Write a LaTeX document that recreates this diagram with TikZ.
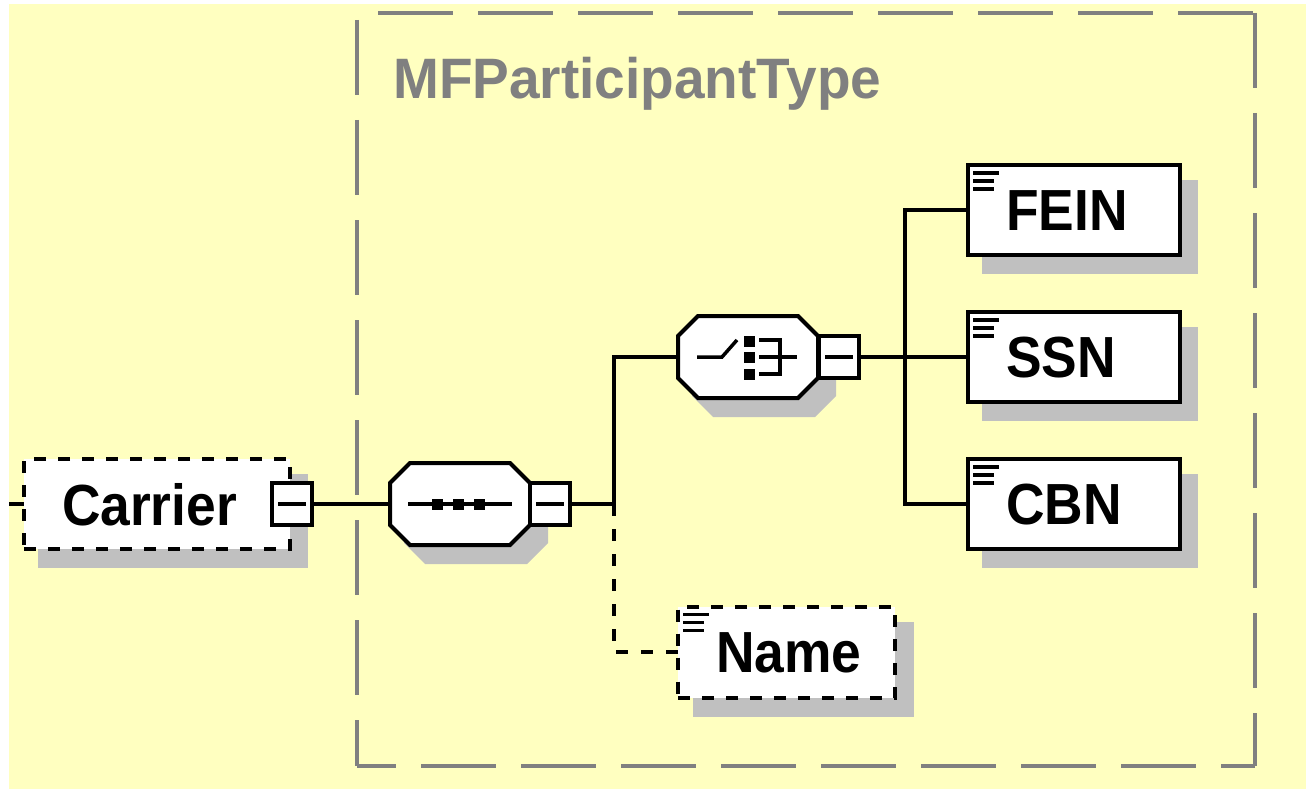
\documentclass[tikz,border=0pt]{standalone}
\usepackage{fontspec}
\setmainfont{Liberation Sans}
\usepackage{graphicx}
\definecolor{bgy}{HTML}{FFFFC0}
\definecolor{shad}{HTML}{C0C0C0}
\definecolor{frm}{HTML}{808080}
\newcommand\octpathx[5]{({#1-#3},{#2-#4+#5}) -- ({#1-#3+#5},{#2-#4}) -- ({#1+#3-#5},{#2-#4}) -- ({#1+#3},{#2-#4+#5}) -- ({#1+#3},{#2+#4-#5}) -- ({#1+#3-#5},{#2+#4}) -- ({#1-#3+#5},{#2+#4}) -- ({#1-#3},{#2+#4-#5}) -- cycle}
\newcommand\lbltext[1]{\scalebox{0.92}[1]{#1}}
\tikzset{
  shadowrect/.style={fill=shad, draw=none, inner sep=0pt, outer sep=0pt, rectangle},
  elbox/.style={draw=black, line width=4pt, fill=white, inner sep=0pt, outer sep=0pt, rectangle, minimum width=212pt, minimum height=90pt},
  optbox/.style={elbox, dash pattern=on 12pt off 12pt},
  minusbox/.style={draw=black, line width=4pt, fill=white, inner sep=0pt, outer sep=0pt, rectangle, minimum width=40pt, minimum height=42pt},
  modelanchor/.style={inner sep=0pt, outer sep=0pt, rectangle, minimum width=140pt, minimum height=82pt},
  octline/.style={draw=black, line width=4pt, fill=white, line join=miter},
  octshadow/.style={fill=shad},
  lbl/.style={anchor=base west, inner sep=0pt, outer sep=0pt, font=\fontsize{58}{58}\selectfont\bfseries},
  conn/.style={line width=4pt},
  optconn/.style={line width=4pt, dash pattern=on 12pt off 13pt},
  iconline/.style={line width=3.5pt},
  framestyle/.style={draw=frm, line width=4pt},
}
\begin{document}
\begin{tikzpicture}[x=1pt,y=-1pt]
\useasboundingbox (0,0) rectangle (1306,789);
\fill[white] (-5,-5) rectangle (1312,795);
\fill[bgy] (9,4) rectangle (1312,795);
% group frame
\draw[framestyle, dash pattern=on 75pt off 25pt, dash phase=79pt] (357,13) -- (1255,13);
\draw[framestyle, dash pattern=on 75pt off 25pt, dash phase=93pt] (357,13) -- (357,766);
\draw[framestyle, dash pattern=on 75pt off 25pt, dash phase=0pt] (1255,13) -- (1255,766);
\draw[framestyle, dash pattern=on 75pt off 25pt, dash phase=36pt] (357,766) -- (1255,766);
\node[anchor=base west, inner sep=0pt, text=frm, font=\fontsize{57}{57}\selectfont\bfseries] (title) at (393,99) {\scalebox{0.965}[1]{MFParticipantType}};
% shadows
\node[shadowrect, minimum width=270pt, minimum height=94pt] (Carriersh) at (173,521) {};
\node[shadowrect, minimum width=216pt, minimum height=94pt] (FEINsh) at (1090,227) {};
\node[shadowrect, minimum width=216pt, minimum height=94pt] (SSNsh) at (1090,374) {};
\node[shadowrect, minimum width=216pt, minimum height=94pt] (CBNsh) at (1090,521) {};
\node[shadowrect, minimum width=221pt, minimum height=95pt] (Namesh) at (803,669) {};
\fill[octshadow] \octpathx{476}{521}{72}{43}{21};
\fill[octshadow] \octpathx{764}{374}{72}{43}{21};
% element boxes
\node[optbox, minimum width=266pt] (Carrier) at (157,504) {};
\node[minusbox] (Cmin) at (292,504) {};
\node[elbox] (FEIN) at (1074,210) {};
\node[elbox] (SSN) at (1074,357) {};
\node[elbox] (CBN) at (1074,504) {};
\node[optbox, minimum width=217pt, minimum height=91pt] (Name) at (786.5,652) {};
% sequence compositor
\node[modelanchor] (seq) at (460,504) {};
\path[octline] \octpathx{460}{504}{70}{41}{20};
\node[minusbox] (Smin) at (550,504) {};
% choice compositor
\node[modelanchor] (cho) at (748,357) {};
\path[octline] \octpathx{748}{357}{70}{41}{20};
\node[minusbox] (Chmin) at (839,357) {};
% connectors
\coordinate (stub) at (9,504);
\coordinate (j1) at (614,504);
\coordinate (j2) at (905,357);
\draw[conn] (stub) -- (Carrier.west);
\draw[conn] (Cmin.east) -- (seq.west);
\draw[conn] (Smin.east) -- (j1) |- (cho.west);
\draw[optconn] (j1) |- (Name.west);
\draw[conn] (Chmin.east) -- (j2) -- (SSN.west);
\draw[conn] (FEIN.west) -| (j2) |- (CBN.west);
% minus signs
\foreach \m in {Cmin,Smin,Chmin}{
  \draw[iconline] ([xshift=6pt]\m.west) -- ([xshift=-6pt]\m.east);
}
% sequence icon
\draw[iconline] (408,504) -- (512,504);
\foreach \cx in {437.5,458.5,479.5}{
  \fill ({\cx-5.5},498.5) rectangle ({\cx+5.5},509.5);
}
% choice icon
\draw[iconline] (697,357) -- (722,357) -- (737,340);
\fill (743.5,335.5) rectangle (754.5,346.5);
\fill (743.5,351.5) rectangle (754.5,362.5);
\fill (743.5,368.5) rectangle (754.5,379.5);
\draw[iconline] (759,340) -- (780,340) -- (780,374) -- (759,374);
\draw[iconline] (759,357) -- (797,357);
% documentation icons
\foreach \b in {FEIN,SSN,CBN,Name}{
  \draw[iconline] ([shift={(5,8)}]\b.north west) -- ++(26,0);
  \draw[iconline] ([shift={(5,16)}]\b.north west) -- ++(21,0);
  \draw[iconline] ([shift={(5,24)}]\b.north west) -- ++(21,0);
}
% labels
\node[lbl] (Carriert) at ([shift={(38,21)}]Carrier.west) {\lbltext{Carrier}};
\node[lbl] (FEINt) at ([shift={(38,20)}]FEIN.west) {\lbltext{FEIN}};
\node[lbl] (SSNt) at ([shift={(38,20)}]SSN.west) {\lbltext{SSN}};
\node[lbl] (CBNt) at ([shift={(38,20)}]CBN.west) {\lbltext{CBN}};
\node[lbl] (Namet) at ([shift={(38,20)}]Name.west) {\lbltext{Name}};
\end{tikzpicture}
\end{document}
